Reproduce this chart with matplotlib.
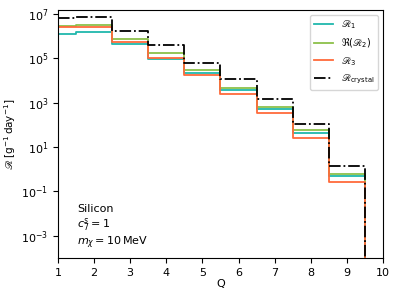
import numpy as np
import matplotlib.pyplot as plt

# Q bins and rates [g^-1 day^-1]
Q = [1, 2, 3, 4, 5, 6, 7, 8, 9, 10]
R1 = [1.2e6, 1.5e6, 4.3e5, 9.6e4, 2.1e4, 3.8e3, 5.2e2, 45, 0.52, 1e-12]
R2 = [2.7e6, 3.1e6, 7.3e5, 1.7e5, 2.9e4, 4.7e3, 6.6e2, 58, 0.64, 1e-12]
R3 = [2.6e6, 2.5e6, 5.1e5, 1.07e5, 1.7e4, 2.5e3, 3.3e2, 26, 0.27, 1e-12]
Rcrys = [6.6e6, 7.0e6, 1.7e6, 3.9e5, 5.9e4, 1.1e4, 1.5e3, 1.1e2, 1.4, 1e-12]
yticks = [1e-3, 1e-1, 1e1, 1e3, 1e5, 1e7]

plt.rcParams['font.size'] = 8
fig = plt.figure(figsize=(3.99, 2.99), dpi=100)
ax = fig.add_axes([0.145, 0.137, 0.815, 0.83])

ax.step(Q, R1, where='mid', color='#20b8ac', lw=1.3, label=r'$\mathscr{R}_1$')
ax.step(Q, R2, where='mid', color='#8cc04a', lw=1.3, label=r'$\Re(\mathscr{R}_2)$')
ax.step(Q, R3, where='mid', color='#ff6a3a', lw=1.3, label=r'$\mathscr{R}_3$')
ax.step(Q, Rcrys, where='mid', color='black', ls='-.', lw=1.3, label=r'$\mathscr{R}_\mathrm{crystal}$')

ax.set_yscale('log')
ax.set_xlim(1, 10)
ax.set_ylim(1e-4, 1.5e7)
ax.set_yticks(yticks)
ax.minorticks_off()
ax.set_xlabel('Q', labelpad=1)
ax.set_ylabel(r'$\mathscr{R}\;[\mathrm{g}^{-1}\,\mathrm{day}^{-1}]$', fontsize=7.5, labelpad=2)
ax.legend(loc='upper right', fontsize=7)

ax.text(0.06, 0.05, 'Silicon\n$c_7^s = 1$\n$m_\\chi = 10\\,\\mathrm{MeV}$',
        transform=ax.transAxes, fontsize=8)

plt.savefig('out.png')
